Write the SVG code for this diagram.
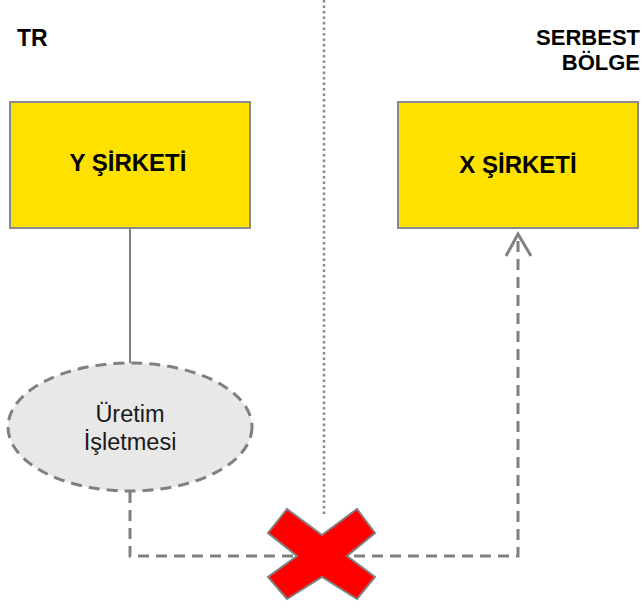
<svg xmlns="http://www.w3.org/2000/svg" width="642" height="608" viewBox="0 0 642 608">
<style>
.box{fill:#FFE100;stroke:#8a8a8a;stroke-width:2}
.bt{font-family:"Liberation Sans",Arial,sans-serif;font-weight:bold;font-size:22px;fill:#000}
.lbl{font-family:"Liberation Sans",Arial,sans-serif;font-size:23.5px;fill:#1a1a1a}
.dash{fill:none;stroke:#808080;stroke-width:3;stroke-dasharray:11,7}
</style>
<rect width="642" height="608" fill="#fff"/>
<line x1="324" y1="0" x2="324" y2="515" stroke="#8a8a8a" stroke-width="2.5" stroke-dasharray="2.5,3"/>
<text class="bt" x="17" y="46" style="font-size:23px">TR</text>
<text class="bt" x="640" y="45" text-anchor="end">SERBEST</text>
<text class="bt" x="640" y="70" text-anchor="end">BÖLGE</text>
<g id="connectors">
<line x1="130" y1="228" x2="130" y2="363" stroke="#808080" stroke-width="2"/>
<path class="dash" d="M130,492 V556 H518 V234"/>
<path d="M506,256 L518,234 L531,256" fill="none" stroke="#808080" stroke-width="3"/>
</g>
<g id="y-sirketi">
<rect class="box" x="10" y="102" width="240" height="126"/>
<text class="bt" x="128" y="171" text-anchor="middle" style="font-size:24px">Y ŞİRKETİ</text>
</g>
<g id="x-sirketi">
<rect class="box" x="398" y="102" width="240" height="126"/>
<text class="bt" x="518" y="173" text-anchor="middle" style="font-size:24px">X ŞİRKETİ</text>
</g>
<g id="uretim">
<ellipse cx="130" cy="427" rx="122" ry="64" fill="#e8e8e8" stroke="#808080" stroke-width="3" stroke-dasharray="11,7"/>
<text class="lbl" x="130" y="422" text-anchor="middle">Üretim</text>
<text class="lbl" x="130" y="450" text-anchor="middle">İşletmesi</text>
</g>
<g id="cross">
<polygon points="287,509 322,535 357,509 375,533 347,556 375,577 357,599 322,577 287,599 268,577 297,556 268,533" fill="#ff0000" stroke="#808080" stroke-width="2"/>
</g>
</svg>
